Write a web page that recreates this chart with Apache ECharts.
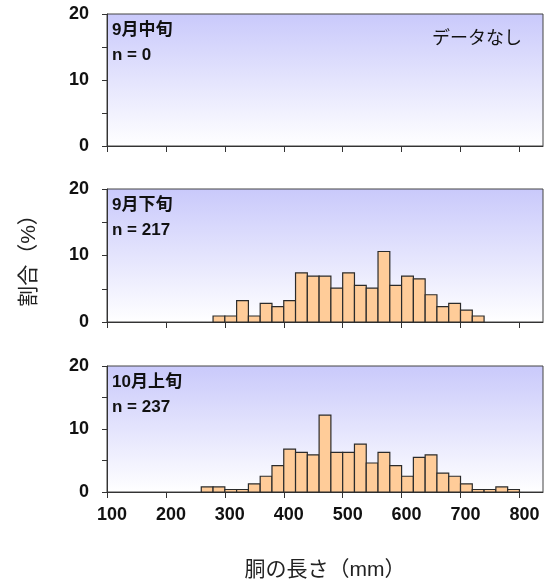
<!DOCTYPE html>
<html>
<head>
<meta charset="utf-8">
<script src="https://cdn.jsdelivr.net/npm/echarts@6/dist/echarts.min.js"></script>
<style>
  html, body { margin: 0; padding: 0; background: #fff; }
  #main { width: 555px; height: 582px; }
</style>
</head>
<body>
<div id="main"></div>
<script>
// 階級幅 20mm
var binWidth = 20;
var xTicks = [100, 200, 300, 400, 500, 600, 700, 800];
var yTicks = [0, 10, 20];

var panelNames = ['9月中旬', '9月下旬', '10月上旬'];
var panelN = ['n = 0', 'n = 217', 'n = 237'];

// 9月中旬: データなし
var binsMid = [];
var valuesMid = [];

// 9月下旬 (割合 %)
var binsLate = [280, 300, 320, 340, 360, 380, 400, 420, 440, 460, 480, 500,
  520, 540, 560, 580, 600, 620, 640, 660, 680, 700, 720];
var valuesLate = [0.9, 0.9, 3.2, 0.9, 2.8, 2.3, 3.2, 7.4, 6.9, 6.9, 5.1, 7.4,
  5.5, 5.1, 10.6, 5.5, 6.9, 6.5, 4.1, 2.3, 2.8, 1.8, 0.9];

// 10月上旬 (割合 %)
var binsOct = [260, 280, 300, 320, 340, 360, 380, 400, 420, 440, 460, 480, 500,
  520, 540, 560, 580, 600, 620, 640, 660, 680, 700, 720, 740, 760, 780];
var valuesOct = [0.8, 0.8, 0.4, 0.4, 1.3, 2.5, 4.2, 6.8, 6.3, 5.9, 12.2, 6.3, 6.3,
  7.6, 4.6, 6.3, 4.2, 2.5, 5.5, 5.9, 3.0, 2.5, 1.3, 0.4, 0.4, 0.8, 0.4];

var fontFam = '"Liberation Sans", Arial, "Noto Sans CJK JP", sans-serif';
var myChart = echarts.init(document.getElementById('main'));

var tops = [14, 189, 366];
var heights = [132, 133, 131];

function makeData(bins, vals) {
  var d = [];
  for (var i = 0; i < bins.length; i++) d.push([bins[i], vals[i]]);
  return d;
}

function renderBar(params, api) {
  var x0 = api.value(0);
  var v = api.value(1);
  var p0 = api.coord([x0, v]);
  var p1 = api.coord([x0 + binWidth, 0]);
  return {
    type: 'rect',
    shape: { x: p0[0], y: p0[1], width: p1[0] - p0[0], height: p1[1] - p0[1] },
    style: { fill: '#ffcc99', stroke: '#2b2b2b', lineWidth: 1.2 }
  };
}

var grids = [], xAxes = [], yAxes = [], series = [], graphics = [];
var allData = [makeData(binsMid, valuesMid), makeData(binsLate, valuesLate), makeData(binsOct, valuesOct)];

for (var i = 0; i < 3; i++) {
  grids.push({
    left: 107, top: tops[i], width: 436, height: heights[i],
    show: true,
    borderColor: '#444', borderWidth: 1,
    backgroundColor: new echarts.graphic.LinearGradient(0, 0, 0, 1, [
      { offset: 0, color: '#c9c9fb' },
      { offset: 1, color: '#ffffff' }
    ])
  });
  xAxes.push({
    type: 'value', gridIndex: i, min: 100, max: 840, interval: 100,
    splitLine: { show: false },
    axisLine: { show: true, onZero: false, lineStyle: { color: '#333', width: 1 } },
    axisTick: { show: true, length: 6, customValues: xTicks, lineStyle: { color: '#333' } },
    axisLabel: {
      show: i === 2, customValues: xTicks, margin: 14, padding: [0, 0, 0, 10],
      fontSize: 18, fontWeight: 'bold', color: '#111', fontFamily: fontFam
    },
    name: i === 2 ? '胴の長さ（mm）' : '',
    nameLocation: 'middle', nameGap: 68,
    nameTextStyle: { fontSize: 21, color: '#222', fontFamily: fontFam }
  });
  yAxes.push({
    type: 'value', gridIndex: i, min: 0, max: 20, interval: 5,
    splitLine: { show: false },
    axisLine: { show: true, lineStyle: { color: '#333', width: 1 } },
    axisTick: { show: true, length: 5, lineStyle: { color: '#333' } },
    axisLabel: {
      customValues: yTicks, margin: 18,
      fontSize: 18, fontWeight: 'bold', color: '#111', fontFamily: fontFam
    },
    name: i === 1 ? '割合（%）' : '',
    nameLocation: 'middle', nameGap: 67, nameRotate: 90,
    nameTextStyle: { fontSize: 21, color: '#222', fontFamily: fontFam }
  });
  series.push({
    type: 'custom', xAxisIndex: i, yAxisIndex: i,
    renderItem: renderBar, data: allData[i], silent: true
  });
  graphics.push({
    type: 'text', left: 112, top: tops[i] + 4,
    style: {
      text: panelNames[i] + '\n' + panelN[i], fill: '#111',
      font: 'bold 17px ' + fontFam, lineHeight: 25
    }
  });
}

graphics.push({
  type: 'text', left: 432, top: 30,
  style: { text: 'データなし', fill: '#111', font: '18px ' + fontFam }
});

myChart.setOption({
  animation: false,
  grid: grids,
  xAxis: xAxes,
  yAxis: yAxes,
  series: series,
  graphic: graphics
});
</script>
</body>
</html>
